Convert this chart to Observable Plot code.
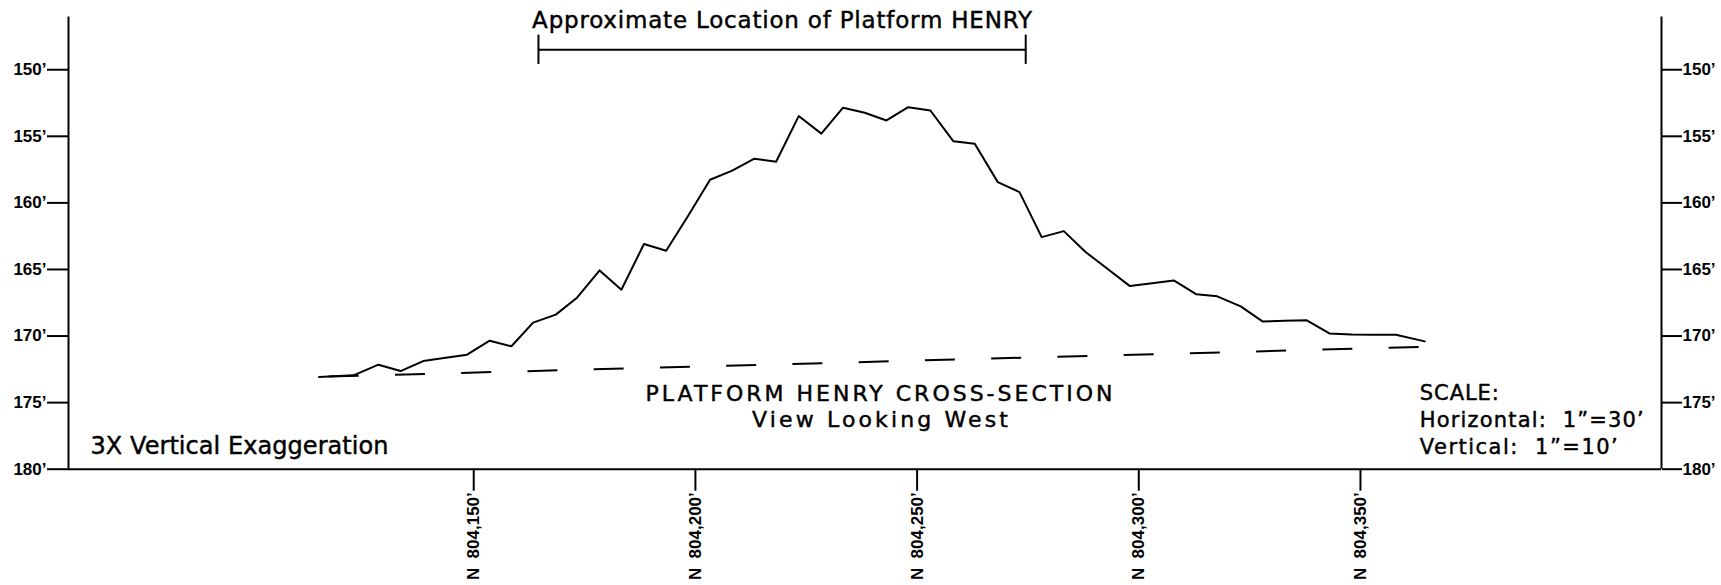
<!DOCTYPE html>
<html>
<head>
<meta charset="utf-8">
<script src="https://cdn.jsdelivr.net/npm/d3@7"></script>
<script src="https://cdn.jsdelivr.net/npm/@observablehq/plot@0.6"></script>
<style>
  html, body { margin: 0; padding: 0; background: #fff; }
  svg text { white-space: pre; }
</style>
</head>
<body>
<div id="chart"></div>
<script>
// ---- data ----
const northing = [
  804115.1, 804122.9, 804128.5, 804133.5, 804138.6, 804143.3, 804148.5, 804153.6,
  804158.5, 804163.4, 804168.5, 804173.3, 804178.4, 804183.3, 804188.4, 804193.4,
  804198.3, 804203.3, 804208.3, 804213.3, 804218.2, 804223.3, 804228.4, 804233.3,
  804238.2, 804243.1, 804248.0, 804253.0, 804258.2, 804263.0, 804268.2, 804273.1,
  804278.1, 804283.1, 804288.0, 804293.0, 804298.0, 804303.0, 804307.9, 804313.0,
  804317.7, 804323.0, 804327.9, 804332.9, 804337.9, 804343.0, 804348.0, 804353.0,
  804358.0, 804364.5
];
const elevation = [
  173.08, 172.95, 172.15, 172.63, 171.88, 171.65, 171.40, 170.35,
  170.77, 168.99, 168.39, 167.12, 165.07, 166.52, 163.09, 163.59,
  161.01, 158.26, 157.58, 156.68, 156.91, 153.48, 154.80, 152.85,
  153.23, 153.81, 152.81, 153.06, 155.38, 155.56, 158.44, 159.19,
  162.57, 162.12, 163.69, 164.97, 166.25, 166.03, 165.82, 166.87,
  167.02, 167.77, 168.90, 168.86, 168.82, 169.80, 169.88, 169.90,
  169.90, 170.40
];
const baseNorthing = [804115.1, 804364.5];
const baseElevation = [173.06, 170.81];
const platformRange = [804164.6, 804274.5];
const bracketLevel = 148.5;
const bracketTicks = [147.4, 149.6];
const depthTicks = [150, 155, 160, 165, 170, 175, 180];
const northingTicks = [804150, 804200, 804250, 804300, 804350];
const xDomain = [804058.6, 804417.9];
const yDomain = [180, 146.04];

const headerText = "Approximate Location of Platform HENRY";
const sectionTitle = ["PLATFORM HENRY CROSS-SECTION", "View Looking West"];
const exaggerationNote = "3X Vertical Exaggeration";
const scaleNote = ["SCALE:", "Horizontal:  1”=30’", "Vertical:  1”=10’"];

// ---- tables ----
const profile = northing.map((n, i) => ({n, v: elevation[i]}));
const base = baseNorthing.map((n, i) => ({n, v: baseElevation[i]}));
const bracket = [{y: bracketLevel, x1: platformRange[0], x2: platformRange[1]}];
const bracketEnds = platformRange.map(x => ({x, y1: bracketTicks[0], y2: bracketTicks[1]}));

const annoFont = {fontFamily: "DejaVu Sans", fontWeight: "normal", text: d => d, lineAnchor: "bottom",
  fill: "black", stroke: "black", strokeWidth: 0.45};
const tickFont = {fontFamily: "Liberation Sans, Arial, sans-serif", fontWeight: "bold", label: null};

const chart = Plot.plot({
  width: 1721,
  height: 585,
  marginLeft: 68,
  marginRight: 60,
  marginTop: 16.5,
  marginBottom: 116.3,
  style: "background:#fff; color:#000; font-family: 'Liberation Sans', Arial, sans-serif;",
  x: {domain: xDomain, label: null},
  y: {domain: yDomain, label: null},
  marks: [
    Plot.ruleX(xDomain, {strokeWidth: 2}),
    Plot.ruleY([180], {strokeWidth: 2}),
    Plot.axisY(depthTicks, {...tickFont, anchor: "left", tickSize: 21, tickPadding: 1, fontSize: 17,
      strokeWidth: 2, tickFormat: d => `${d}’`}),
    Plot.axisY(depthTicks, {...tickFont, anchor: "right", tickSize: 20, tickPadding: 1, fontSize: 17,
      strokeWidth: 2, tickFormat: d => `${d}’`}),
    Plot.axisX(northingTicks, {...tickFont, anchor: "bottom", tickSize: 22, tickPadding: 1, fontSize: 17,
      strokeWidth: 2, tickRotate: -90, tickFormat: d => `N  ${d3.format(",")(d)}’`}),
    Plot.line(base, {x: "n", y: "v", strokeWidth: 2, strokeDasharray: "30,36.27", strokeDashoffset: 56.57, strokeLinecap: "butt"}),
    Plot.line(profile, {x: "n", y: "v", strokeWidth: 2}),
    Plot.ruleY(bracket, {y: "y", x1: "x1", x2: "x2", strokeWidth: 2}),
    Plot.ruleX(bracketEnds, {x: "x", y1: "y1", y2: "y2", strokeWidth: 2}),
    Plot.text([headerText], {...annoFont, x: () => (platformRange[0] + platformRange[1]) / 2,
      frameAnchor: "top", dy: 10.5, fontSize: 23}),
    Plot.text([sectionTitle[0]], {...annoFont, frameAnchor: "bottom", dx: 14, dy: -68, fontSize: 22}),
    Plot.text([sectionTitle[1]], {...annoFont, frameAnchor: "bottom", dx: 15, dy: -42, fontSize: 22}),
    Plot.text([exaggerationNote], {...annoFont, frameAnchor: "bottom-left", textAnchor: "start", dx: 22, dy: -15.7, fontSize: 24}),
    Plot.text([scaleNote[0]], {...annoFont, frameAnchor: "bottom-right", textAnchor: "start", dx: -241.7, dy: -69.7, fontSize: 21}),
    Plot.text([scaleNote[1]], {...annoFont, frameAnchor: "bottom-right", textAnchor: "start", dx: -241.7, dy: -42.7, fontSize: 21}),
    Plot.text([scaleNote[2]], {...annoFont, frameAnchor: "bottom-right", textAnchor: "start", dx: -241.7, dy: -15.7, fontSize: 21})
  ]
});

// stretch CAD-style annotation text to the widths seen in the drawing
const lengths = new Map([
  [headerText, 500], [sectionTitle[0], 467], [sectionTitle[1], 256],
  [exaggerationNote, 298], [scaleNote[0], 79], [scaleNote[1], 224], [scaleNote[2], 198]
]);
d3.select(chart).selectAll("text").each(function() {
  const t = this.textContent;
  if (lengths.has(t)) {
    this.setAttribute("textLength", lengths.get(t));
    this.setAttribute("lengthAdjust", "spacing");
  }
});

document.getElementById("chart").appendChild(chart);
</script>
</body>
</html>
